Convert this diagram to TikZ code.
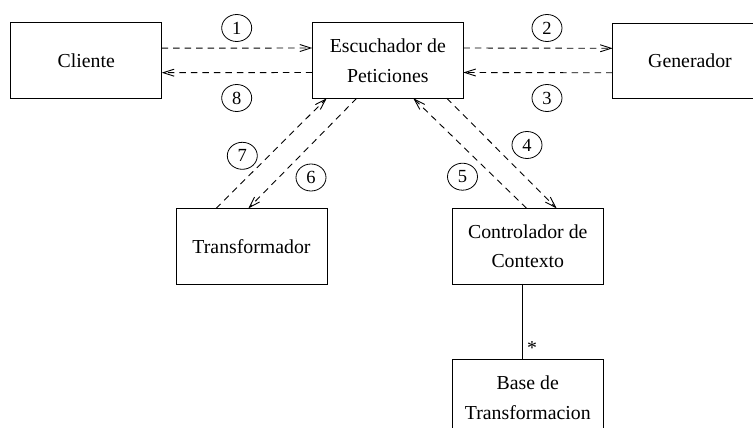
\documentclass[tikz,border=0pt]{standalone}
\usepackage{fontspec}
\setmainfont{Liberation Serif}
\usetikzlibrary{arrows.meta,shapes.geometric}
\begin{document}
\begin{tikzpicture}[x=1pt,y=-1pt,
  box/.style={draw,line width=0.9pt,rectangle,minimum width=151pt,minimum height=75.5pt,
    inner sep=0pt,outer sep=0pt,align=center,font=\fontsize{19.8}{29.5}\selectfont},
  num/.style={draw,line width=0.8pt,ellipse,minimum width=30pt,minimum height=27pt,inner sep=0pt,
    font=\fontsize{18.5}{18.5}\selectfont},
  msg/.style={line width=0.9pt,dash pattern=on 6.5pt off 5pt,
    -{Straight Barb[length=11pt,width=7pt,line width=0.9pt]}},
  assoc/.style={line width=0.9pt}]
\clip (0,0) rectangle (753,428);
\node[box] (cli) at (86.2,60.7) {Cliente};
\node[box] (esc) at (387.8,60.5) {Escuchador de\\Peticiones};
\node[box,minimum width=200pt] (gen) at (712.7,60.8) {\hspace*{-45.4pt}Generador};
\node[box] (tra) at (251.5,246.2) {Transformador};
\node[box] (con) at (527.8,246.2) {Controlador de\\Contexto};
\node[box] (bas) at (527.8,397.5) {Base de\\Transformacion};

\draw[msg] ([yshift=12.5pt]cli.east) -- ([yshift=12.5pt]esc.west);
\draw[msg] ([yshift=-12pt]esc.west) -- ([yshift=-12pt]cli.east);
\draw[msg] ([yshift=12.5pt]esc.east) -- ([yshift=12.5pt]gen.west);
\draw[msg] ([yshift=-12pt]gen.west) -- ([yshift=-12pt]esc.east);

\draw[msg] ([xshift=-35.5pt]tra.north) -- ([xshift=-61.1pt]esc.south);
\draw[msg] ([xshift=-31.1pt]esc.south) -- ([xshift=-3.2pt]tra.north);
\draw[msg] ([xshift=-1.1pt]con.north) -- ([xshift=25.5pt]esc.south);
\draw[msg] ([xshift=58.9pt]esc.south) -- ([xshift=28.9pt]con.north);

\draw[assoc] ([xshift=-5pt]con.south) -- ([xshift=-5pt]bas.north);
\node[font=\fontsize{19.8}{20}\selectfont,inner sep=0pt] (star) at (532,348) {*};

\node[num] (n1) at (236.7,28) {1};
\node[num] (n2) at (547,28) {2};
\node[num] (n3) at (547,98) {3};
\node[num] (n4) at (527,145) {4};
\node[num] (n5) at (462.5,176.7) {5};
\node[num] (n6) at (311,177.5) {6};
\node[num] (n7) at (242.3,155.8) {7};
\node[num] (n8) at (236.7,98) {8};
\end{tikzpicture}
\end{document}
